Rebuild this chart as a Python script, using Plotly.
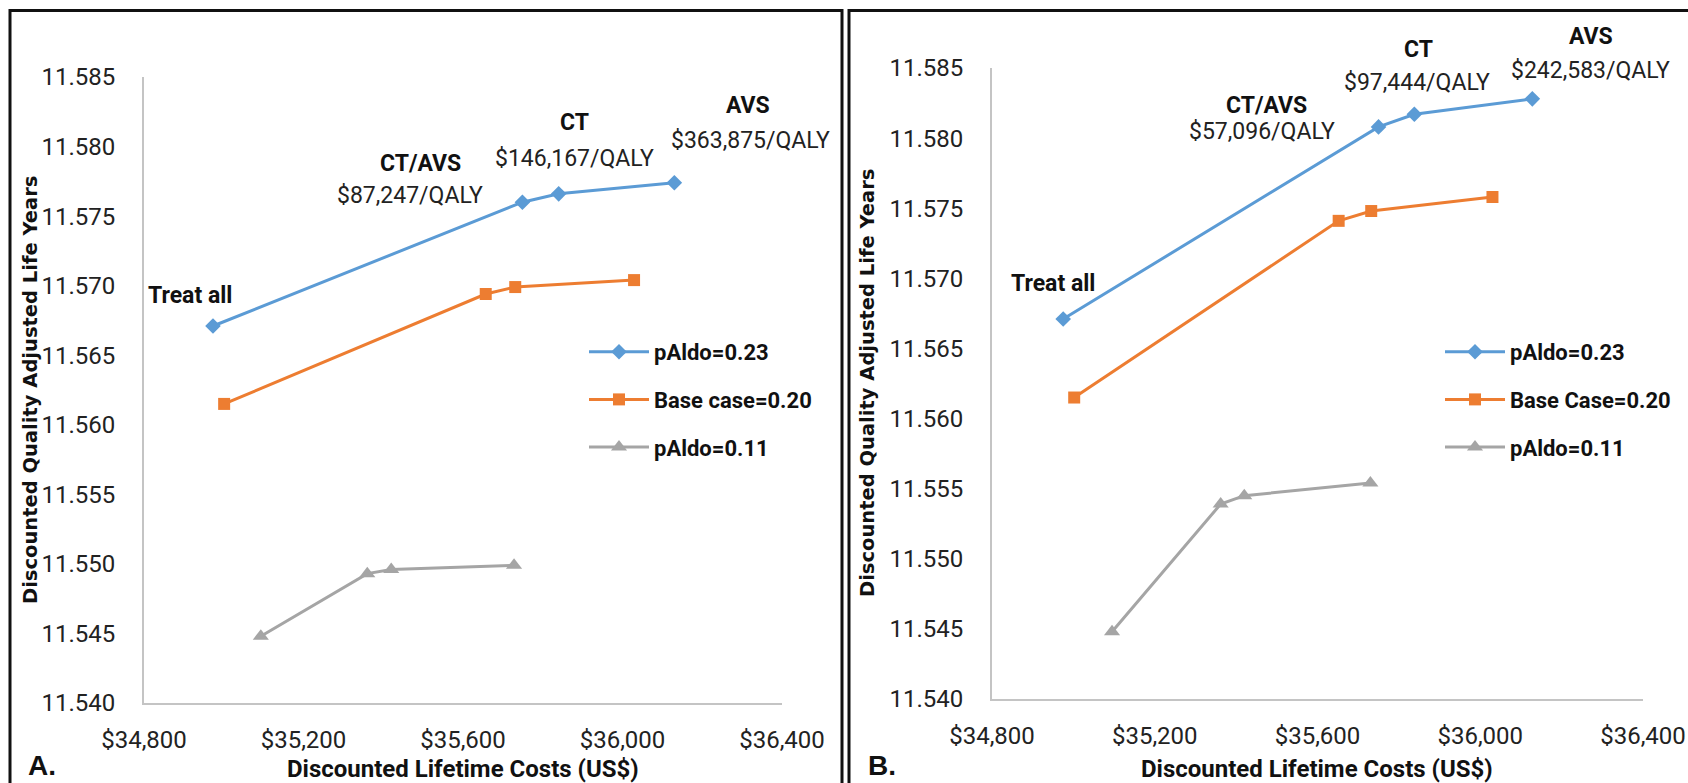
import plotly.graph_objects as go

# Panel A: base model, three prevalence scenarios (cost, QALY) per strategy
a_cost_high = [34973, 35749, 35840, 36130]
a_qaly_high = [11.5671, 11.5760, 11.5766, 11.5774]
a_cost_base = [35001, 35657, 35731, 36029]
a_qaly_base = [11.5615, 11.5694, 11.5699, 11.5704]
a_cost_low = [35093, 35360, 35420, 35728]
a_qaly_low = [11.5448, 11.5493, 11.5496, 11.5499]

# Panel B
b_cost_high = [34975, 35750, 35838, 36128]
b_qaly_high = [11.5671, 11.5808, 11.5817, 11.5828]
b_cost_base = [35002, 35652, 35732, 36030]
b_qaly_base = [11.5615, 11.5741, 11.5748, 11.5758]
b_cost_low = [35095, 35362, 35420, 35730]
b_qaly_low = [11.5448, 11.5539, 11.5545, 11.5554]

names_a = ["pAldo=0.23", "Base case=0.20", "pAldo=0.11"]
names_b = ["pAldo=0.23", "Base Case=0.20", "pAldo=0.11"]

icer_a = ["$87,247/QALY", "$146,167/QALY", "$363,875/QALY"]
icer_b = ["$57,096/QALY", "$97,444/QALY", "$242,583/QALY"]
strategies = ["CT/AVS", "CT", "AVS"]

x_ticks = [34800, 35200, 35600, 36000, 36400]
x_tick_text = ["$34,800", "$35,200", "$35,600", "$36,000", "$36,400"]
y_ticks = [11.540, 11.545, 11.550, 11.555, 11.560, 11.565, 11.570, 11.575, 11.580, 11.585]

W, H = 1688, 783
BLUE, ORANGE, GRAY = "#5B9BD5", "#ED7D31", "#A5A5A5"
styles = [(BLUE, "diamond", 12), (ORANGE, "square", 12), (GRAY, "triangle-up", 14)]

def px_x(p):
    return p / W

def px_y(p):
    return 1 - p / H

fig = go.Figure()

panels = [
    ("x", "y", "legend", names_a,
     [(a_cost_high, a_qaly_high), (a_cost_base, a_qaly_base), (a_cost_low, a_qaly_low)]),
    ("x2", "y2", "legend2", names_b,
     [(b_cost_high, b_qaly_high), (b_cost_base, b_qaly_base), (b_cost_low, b_qaly_low)]),
]
for xa, ya, leg, names, series in panels:
    for i, ((cx, qy), (col, sym, sz)) in enumerate(zip(series, styles)):
        fig.add_trace(go.Scatter(
            x=cx, y=qy, mode="lines+markers", name=names[i],
            xaxis=xa, yaxis=ya, legend=leg, legendgroup=f"{leg}{i}",
            line=dict(color=col, width=3),
            marker=dict(symbol=sym, size=sz, color=col),
        ))

tick_font = dict(family="Roboto, Liberation Sans, sans-serif", size=24, color="#222")
axis_common = dict(showgrid=False, zeroline=False, showline=True,
                   linecolor="#C4C4C4", linewidth=2, ticks="", automargin=False,
                   tickfont=tick_font, fixedrange=True)
legend_font = dict(family="Roboto, Liberation Sans, sans-serif", size=22,
                   color="#111", weight="bold")

fig.update_layout(
    width=W, height=H, autosize=False, margin=dict(l=0, r=0, t=0, b=0, pad=0),
    paper_bgcolor="white", plot_bgcolor="white",
    xaxis=dict(domain=[px_x(144), px_x(782)], range=[34800, 36400],
               tickvals=x_ticks, ticktext=x_tick_text, anchor="y",
               ticklabelstandoff=14, **axis_common),
    yaxis=dict(domain=[px_y(703), px_y(77)], range=[11.540, 11.585],
               tickvals=y_ticks, tickformat=".3f", anchor="x",
               ticklabelstandoff=22, **axis_common),
    xaxis2=dict(domain=[px_x(992), px_x(1643)], range=[34800, 36400],
                tickvals=x_ticks, ticktext=x_tick_text, anchor="y2",
                ticklabelstandoff=14, **axis_common),
    yaxis2=dict(domain=[px_y(699), px_y(68)], range=[11.540, 11.585],
                tickvals=y_ticks, tickformat=".3f", anchor="x2",
                ticklabelstandoff=22, **axis_common),
    legend=dict(x=px_x(584), y=px_y(331), xanchor="left", yanchor="top",
                bgcolor="rgba(0,0,0,0)", tracegroupgap=16, itemwidth=60,
                font=legend_font),
    legend2=dict(x=px_x(1440), y=px_y(331), xanchor="left", yanchor="top",
                 bgcolor="rgba(0,0,0,0)", tracegroupgap=16, itemwidth=60,
                 font=legend_font),
    showlegend=True,
)

bold_font = dict(family="Roboto, Liberation Sans, sans-serif", size=23, color="#111", weight="bold")
reg_font = dict(family="Roboto, Liberation Sans, sans-serif", size=23, color="#222")

def note(text, x, y, font):
    fig.add_annotation(text=text, x=px_x(x), y=px_y(y), xref="paper", yref="paper",
                       showarrow=False, xanchor="center", yanchor="middle", font=font)

# Strategy labels and ICERs, panel A
note("Treat all", 190, 295, bold_font)
a_label_pos = [(420, 163, 410, 195), (574, 122, 574, 158), (748, 105, 750, 141)]
for s, icer, (lx, ly, ix, iy) in zip(strategies, icer_a, a_label_pos):
    note(s, lx, ly, bold_font)
    note(icer, ix, iy, reg_font)

# Strategy labels and ICERs, panel B
note("Treat all", 1053, 283, bold_font)
b_label_pos = [(1266, 105, 1262, 132), (1418, 50, 1417, 82), (1591, 37, 1590, 70)]
for s, icer, (lx, ly, ix, iy) in zip(strategies, icer_b, b_label_pos):
    note(s, lx, ly, bold_font)
    note(icer, ix, iy, reg_font)

# Axis titles
ytitle_font = dict(family="DejaVu Sans, Liberation Sans, sans-serif", size=19.5, color="#111", weight="bold")
xtitle_font = dict(family="Roboto, Liberation Sans, sans-serif", size=24, color="#111", weight="bold")
for cx, cy in [(30, 390), (867, 383)]:
    fig.add_annotation(text="Discounted Quality Adjusted Life Years", x=px_x(cx), y=px_y(cy),
                       xref="paper", yref="paper", showarrow=False, textangle=-90,
                       xanchor="center", yanchor="middle", font=ytitle_font)
for cx, cy in [(463, 769), (1317, 769)]:
    note("Discounted Lifetime Costs (US$)", cx, cy, xtitle_font)

# Panel letters
letter_font = dict(family="Liberation Sans, Arial, sans-serif", size=28, color="#111", weight="bold")
note("A.", 42, 765, letter_font)
note("B.", 882, 765, letter_font)

# Panel frames
frame = dict(type="line", xref="paper", yref="paper", line=dict(color="#111", width=3))
fig.add_shape(x0=px_x(10), x1=px_x(10), y0=0, y1=px_y(9), **frame)
fig.add_shape(x0=px_x(10), x1=px_x(842), y0=px_y(10.5), y1=px_y(10.5), **frame)
fig.add_shape(x0=px_x(842), x1=px_x(842), y0=0, y1=px_y(9), **frame)
fig.add_shape(x0=px_x(849), x1=px_x(849), y0=0, y1=px_y(9), **frame)
fig.add_shape(x0=px_x(849), x1=1, y0=px_y(10.5), y1=px_y(10.5), **frame)

fig.write_html("out.html", config={"displayModeBar": False})
